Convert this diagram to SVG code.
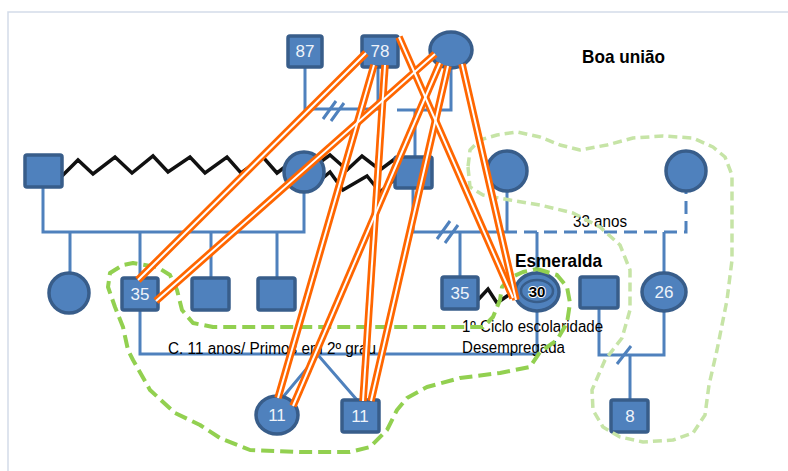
<svg xmlns="http://www.w3.org/2000/svg" width="788" height="471" viewBox="0 0 788 471">
  <style>
    .frame { stroke: #d3dbe9; stroke-width: 1.5; fill: none; }
    .link { stroke: #4f81bd; stroke-width: 3; fill: none; }
    .dash { stroke-dasharray: 13 7; }
    .node { fill: #4f81bd; stroke: #385d8a; stroke-width: 3.5; }
    .num { font-family: "Liberation Sans", Arial, sans-serif; font-size: 17px; fill: #eef3fa; text-anchor: middle; }
    .lbl { font-family: "Liberation Sans", Arial, sans-serif; font-size: 16px; fill: #000; }
    .bold { font-weight: bold; font-size: 19px; }
    .zig { stroke: #111; stroke-width: 3.5; fill: none; stroke-linejoin: miter; }
    .grp { stroke: #92d050; stroke-width: 4; fill: none; stroke-dasharray: 13 6; stroke-linejoin: round; }
    .grp2 { stroke: #c6e4a6; stroke-width: 3.5; fill: none; stroke-dasharray: 9 5; stroke-linejoin: round; }
    .ob { stroke: #ff6600; stroke-width: 7.5; fill: none; }
    .ow { stroke: #ffffff; stroke-width: 2; fill: none; }
  </style>

  <!-- page frame -->
  <path class="frame" d="M8,471 V12 H788"/>

  <!-- family lines -->
  <g id="connectors">
    <!-- first generation -->
    <path class="link" d="M305,67 V109 H384"/>
    <path class="link" d="M378,67 V109"/>
    <path class="link" d="M397,110 H451 V68"/>
    <path class="link" d="M415,110 V157"/>
    <path class="link" d="M323,119 L336,101 M331,121 L344,103"/>

    <!-- left family -->
    <path class="link" d="M43,187 V232 H304 V192"/>
    <path class="link" d="M70,232 V274 M140,232 V278 M211,232 V278 M277,232 V278"/>

    <!-- right family -->
    <path class="link" d="M413,188 V232 H517"/>
    <path class="link" d="M507,191 V232"/>
    <path class="link dash" d="M524,232 H686 V191"/>
    <path class="link" d="M460,232 V277 M537,232 V273 M664,232 V273"/>
    <path class="link" d="M437,239 L450,221 M445,243 L458,225"/>

    <!-- third generation -->
    <path class="link" d="M140,310 V354 H537 V311"/>
    <path class="link" d="M283,397 L318,355 L357,400"/>
    <path class="link" d="M599,308 V355 H664 V311"/>
    <path class="link" d="M630,355 V400"/>
    <path class="link" d="M617,364 L631,346"/>

    <!-- conflictual relations -->
    <polyline class="zig" points="62,176 78,160 93,174 115,157 132,173 153,156 168,172 190,157 205,173 227,157 241,173 263,157 277,173 290,163"/>
    <polyline class="zig" points="302,163 312,168 330,155 347,170 362,156 380,170 396,158"/>
    <polyline class="zig" points="318,182 330,172 343,190 367,176 380,192 394,180"/>
    <polyline class="zig" points="476,302 488,289 497,303 510,294"/>
  </g>

  <!-- nodes -->
  <g id="n87"><rect class="node" x="288" y="36" width="34" height="31" rx="2"/><text class="num" x="305" y="57">87</text></g>
  <g id="n78"><rect class="node" x="362" y="36" width="36" height="31" rx="2"/><text class="num" x="380" y="57">78</text></g>
  <g id="nTopF"><ellipse class="node" cx="451" cy="50" rx="21" ry="18"/></g>

  <g id="nL"><rect class="node" x="25" y="155" width="37" height="32" rx="2"/></g>
  <g id="nLF"><circle class="node" cx="304" cy="172" r="20"/></g>
  <g id="nM"><rect class="node" x="395" y="157" width="37" height="31" rx="2"/></g>
  <g id="nR1"><circle class="node" cx="507" cy="171" r="20"/></g>
  <g id="nR2"><circle class="node" cx="686" cy="171" r="20"/></g>

  <g id="nC1"><circle class="node" cx="69" cy="293" r="20"/></g>
  <g id="nC35"><rect class="node" x="122" y="278" width="36" height="32" rx="2"/><text class="num" x="140" y="300">35</text></g>
  <g id="nC3"><rect class="node" x="192" y="278" width="37" height="32" rx="2"/></g>
  <g id="nC4"><rect class="node" x="258" y="278" width="37" height="32" rx="2"/></g>
  <g id="nR35"><rect class="node" x="442" y="277" width="36" height="32" rx="2"/><text class="num" x="460" y="299">35</text></g>
  <g id="nEsmeralda">
    <ellipse class="node" cx="537" cy="292" rx="22" ry="19"/>
    <ellipse cx="537" cy="291" rx="16" ry="11" fill="none" stroke="#385d8a" stroke-width="2.5"/>
    <text x="537" y="297" text-anchor="middle" font-family="Liberation Sans, Arial, sans-serif" font-size="15" font-weight="bold" fill="#000" stroke="#fff" stroke-width="2" paint-order="stroke">30</text>
  </g>
  <g id="nSp"><rect class="node" x="580" y="277" width="38" height="31" rx="2"/></g>
  <g id="n26"><ellipse class="node" cx="664" cy="292" rx="22" ry="19"/><text class="num" x="664" y="298">26</text></g>

  <g id="n11c"><ellipse class="node" cx="277" cy="415" rx="21" ry="19"/><text class="num" x="277" y="421">11</text></g>
  <g id="n11s"><rect class="node" x="342" y="400" width="37" height="32" rx="2"/><text class="num" x="360" y="422">11</text></g>
  <g id="n8"><rect class="node" x="611" y="400" width="37" height="32" rx="2"/><text class="num" x="630" y="422">8</text></g>

  <!-- labels -->
  <text class="lbl bold" x="582" y="63" textLength="83" lengthAdjust="spacingAndGlyphs">Boa união</text>
  <text class="lbl" x="573" y="227" textLength="54" lengthAdjust="spacingAndGlyphs">33 anos</text>
  <text class="lbl bold" x="515" y="267" textLength="87" lengthAdjust="spacingAndGlyphs">Esmeralda</text>
  <text class="lbl" x="462" y="332" textLength="141" lengthAdjust="spacingAndGlyphs">1º Ciclo escolaridade</text>
  <text class="lbl" x="462" y="353" textLength="103" lengthAdjust="spacingAndGlyphs">Desempregada</text>
  <text class="lbl" x="168" y="354" textLength="208" lengthAdjust="spacingAndGlyphs">C. 11 anos/ Primos em 2º grau</text>

  <!-- household outlines -->
  <g id="groups">
    <polyline class="grp2" points="468,167 470,187 483,195 510,200 540,205 573,213 600,227 620,245 630,270 630,310 622,338 605,360 592,390 593,410 603,427 620,437 643,442 673,440 693,433 705,415 709,385 717,350 727,300 732,260 732,175 725,157 713,147 693,138 663,136 633,138 607,145 580,150 560,145 540,137 517,132 497,135 480,140 470,150 468,167"/>
    <polyline class="grp" points="537,269 557,275 567,287 570,303 567,323 557,340 540,352 530,367 500,373 460,378 427,387 407,398 397,410 387,430 370,447 350,452 300,452 250,450 220,438 200,425 175,413 150,390 133,360 128,350 123,327 115,307 108,287 110,273 123,265 133,263 157,267 170,275 177,290 182,310 193,323 213,327 483,327 493,317 500,300 502,287 510,278 523,272 537,269"/>
  </g>

  <!-- close relations -->
  <g id="bonds">
    <g class="ob">
      <line x1="366" y1="53" x2="138" y2="280"/>
      <line x1="435" y1="54" x2="156" y2="301"/>
      <line x1="374" y1="65" x2="278" y2="398"/>
      <line x1="385" y1="65" x2="363" y2="401"/>
      <line x1="440" y1="63" x2="293" y2="406"/>
      <line x1="448" y1="66" x2="371" y2="401"/>
      <line x1="399" y1="37" x2="513" y2="298"/>
      <line x1="462" y1="64" x2="516" y2="300"/>
    </g>
    <g class="ow">
      <line x1="366" y1="53" x2="138" y2="280"/>
      <line x1="435" y1="54" x2="156" y2="301"/>
      <line x1="374" y1="65" x2="278" y2="398"/>
      <line x1="385" y1="65" x2="363" y2="401"/>
      <line x1="440" y1="63" x2="293" y2="406"/>
      <line x1="448" y1="66" x2="371" y2="401"/>
      <line x1="399" y1="37" x2="513" y2="298"/>
      <line x1="462" y1="64" x2="516" y2="300"/>
    </g>
  </g>
</svg>
